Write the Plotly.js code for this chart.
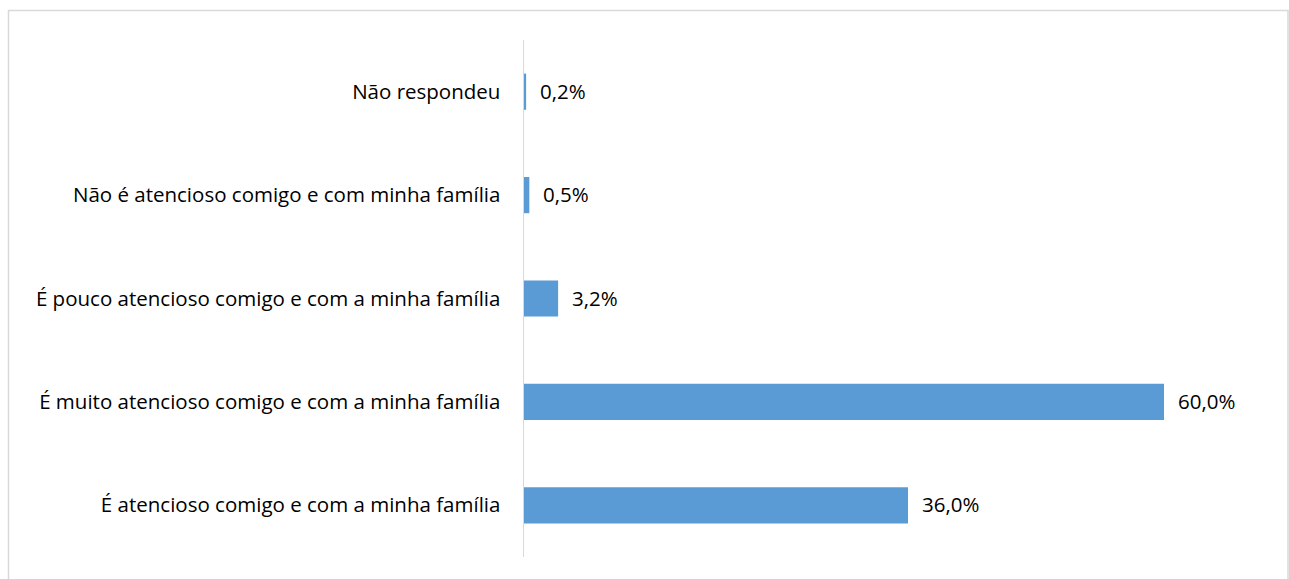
<!DOCTYPE html>
<html>
<head>
<meta charset="utf-8">
<script src="https://cdn.plot.ly/plotly-3.0.1.min.js"></script>
<style>html,body{margin:0;padding:0;background:#fff;}#chart{width:1289px;height:579px;}</style>
</head>
<body>
<div id="chart"></div>
<script>
var categories = [
  "É atencioso comigo e com a minha família",
  "É muito atencioso comigo e com a minha família",
  "É pouco atencioso comigo e com a minha família",
  "Não é atencioso comigo e com minha família",
  "Não respondeu"
];
var values = [36.0, 60.0, 3.2, 0.5, 0.2];
var labels = values.map(function(v){ return v.toFixed(1).replace('.', ',') + '%'; });

var W = 1289, H = 579;
var mL = 524, mR = 61, mT = 40, mB = 22;
var pw = W - mL - mR, ph = H - mT - mB;
function px(x){ return (x - mL) / pw; }
function py(y){ return (H - mB - y) / ph; }
var FONT = 'Open Sans, sans-serif';
var FS = 20.5;

var trace = {
  type: 'bar',
  orientation: 'h',
  x: values,
  y: categories,
  marker: {color: '#5B9BD5'},
  hoverinfo: 'none'
};

var annotations = values.map(function(v, i){
  return {
    x: v, y: categories[i], xref: 'x', yref: 'y',
    text: labels[i], showarrow: false,
    xanchor: 'left', yanchor: 'middle', xshift: 12, yshift: 1,
    font: {family: FONT, size: FS, color: '#000'}
  };
});

var layout = {
  width: W, height: H,
  margin: {l: mL, r: mR, t: mT, b: mB, pad: 0},
  paper_bgcolor: '#fff', plot_bgcolor: '#fff',
  showlegend: false,
  bargap: 0.65,
  font: {family: FONT, size: FS, color: '#000'},
  xaxis: {range: [0, 66], showgrid: false, zeroline: false, showline: false, showticklabels: false, ticks: '', fixedrange: true},
  yaxis: {showgrid: false, zeroline: false, showline: true, linecolor: '#D9D9D9', linewidth: 1.5, ticks: '', ticklen: 0, ticklabelstandoff: 18, automargin: false, tickfont: {family: FONT, size: FS, color: '#000'}, fixedrange: true},
  annotations: annotations,
  shapes: [{
    type: 'rect', xref: 'paper', yref: 'paper',
    x0: px(8.5), x1: px(1288), y0: py(620), y1: py(10.5),
    line: {color: '#D9D9D9', width: 1.5}, fillcolor: 'rgba(0,0,0,0)', layer: 'below'
  }]
};

Plotly.newPlot('chart', [trace], layout, {displayModeBar: false, staticPlot: true});
</script>
</body>
</html>
